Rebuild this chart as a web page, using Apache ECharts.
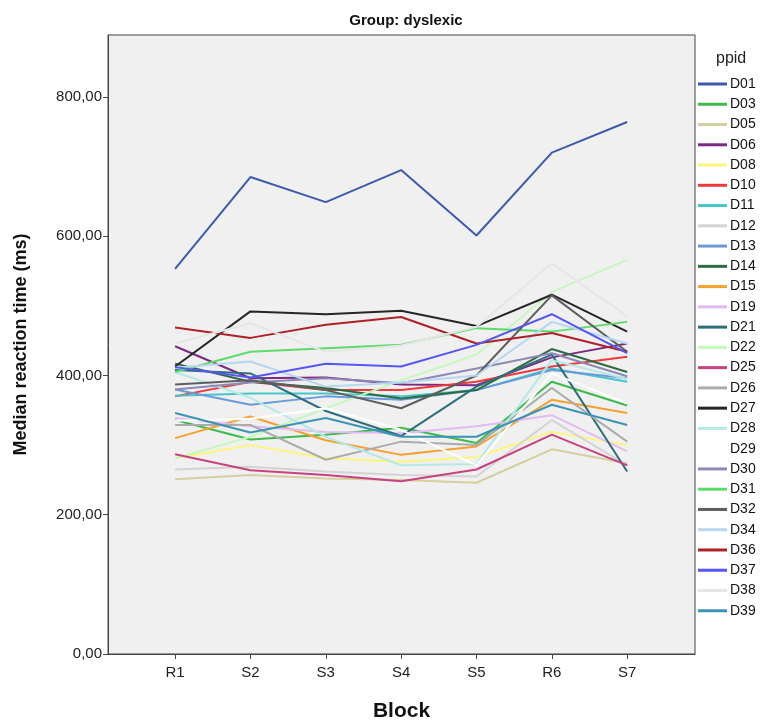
<!DOCTYPE html>
<html>
<head>
<meta charset="utf-8">
<script src="https://cdn.jsdelivr.net/npm/echarts@6/dist/echarts.min.js"></script>
<style>
html, body { margin: 0; padding: 0; background: #fff; }
#chart { width: 762px; height: 725px; }
</style>
</head>
<body>
<div id="chart"></div>
<script>
var blocks = ['R1', 'S2', 'S3', 'S4', 'S5', 'R6', 'S7'];
var yTicks = [0, 200, 400, 600, 800];

// median RT per block, one array per participant
var d01 = [553, 685, 649, 695, 601, 720, 764];
var d03 = [336, 308, 315, 325, 303, 391, 357];
var d05 = [251, 257, 252, 250, 246, 294, 274];
var d06 = [442, 396, 397, 387, 386, 426, 446];
var d08 = [281, 300, 281, 276, 283, 319, 300];
var d10 = [370, 391, 379, 379, 391, 413, 427];
var d11 = [371, 374, 374, 370, 379, 410, 391];
var d12 = [265, 269, 262, 257, 255, 336, 271];
var d13 = [380, 358, 370, 365, 379, 408, 396];
var d14 = [417, 391, 382, 367, 379, 438, 405];
var d15 = [310, 341, 307, 286, 298, 365, 346];
var d19 = [339, 327, 319, 317, 327, 343, 291];
var d21 = [408, 403, 349, 313, 384, 430, 262];
var d22 = [281, 312, 353, 393, 430, 520, 566];
var d25 = [287, 264, 257, 248, 265, 315, 271];
var d26 = [329, 329, 279, 305, 300, 382, 305];
var d27 = [413, 492, 488, 493, 471, 516, 463];
var d28 = [405, 368, 312, 271, 273, 422, 395];
var d29 = [335, 338, 353, 322, 271, 403, 360];
var d30 = [380, 390, 396, 389, 410, 432, 399];
var d31 = [405, 434, 439, 444, 468, 463, 477];
var d32 = [387, 393, 379, 353, 400, 515, 434];
var d34 = [411, 420, 384, 390, 400, 477, 446];
var d36 = [469, 454, 473, 484, 446, 461, 434];
var d37 = [412, 397, 417, 413, 444, 488, 432];
var d38 = [446, 475, 434, 443, 470, 561, 485];
var d39 = [346, 318, 339, 312, 312, 358, 329];

var ppid = ['D01', 'D03', 'D05', 'D06', 'D08', 'D10', 'D11', 'D12', 'D13', 'D14', 'D15', 'D19', 'D21',
    'D22', 'D25', 'D26', 'D27', 'D28', 'D29', 'D30', 'D31', 'D32', 'D34', 'D36', 'D37', 'D38', 'D39'];
var values = [d01, d03, d05, d06, d08, d10, d11, d12, d13, d14, d15, d19, d21,
    d22, d25, d26, d27, d28, d29, d30, d31, d32, d34, d36, d37, d38, d39];
var colors = ['#3D5AAE', '#3CBB4B', '#D5CE9E', '#7B2A82', '#FBF67A', '#F0393C', '#45C6C8', '#D3D3D3', '#6A9ADB',
    '#2C6B44', '#F7A02E', '#E3BBF2', '#2C6E7D', '#C6F8BE', '#C8427F', '#ABABAB', '#262626', '#B4E9E8',
    '#FFFFFF', '#8D88B6', '#5DDB6A', '#5E5E5E', '#B6D6F2', '#AD2127', '#5656F6', '#E6E6E6', '#3B93B5'];

var dom = document.getElementById('chart');
var myChart = echarts.init(dom);

var series = [];
for (var i = 0; i < ppid.length; i++) {
    var pts = [];
    for (var j = 0; j < blocks.length; j++) {
        pts.push([j + 1, values[i][j]]);
    }
    series.push({
        name: ppid[i],
        type: 'line',
        data: pts,
        symbol: 'none',
        animation: false,
        lineStyle: { width: 2, color: colors[i] },
        itemStyle: { color: colors[i] }
    });
}

var font = 'Liberation Sans, Arial, sans-serif';

var option = {
    backgroundColor: '#fff',
    title: [
        {
            text: 'Group: dyslexic',
            left: 401, top: 8, textAlign: 'center',
            textStyle: { fontFamily: font, fontSize: 15, fontWeight: 'bold', color: '#111' }
        },
        {
            text: 'ppid',
            left: 711, top: 46,
            textStyle: { fontFamily: font, fontSize: 16, fontWeight: 'normal', color: '#222' }
        }
    ],
    legend: {
        orient: 'vertical',
        left: 698, top: 76,
        padding: 0,
        icon: 'rect',
        itemWidth: 29, itemHeight: 3,
        itemGap: 4.26,
        textStyle: { fontFamily: font, fontSize: 14, color: '#111', lineHeight: 16, padding: [0, 0, 0, -2] },
        data: ppid
    },
    grid: {
        left: 108, top: 35, width: 587, height: 619,
        outerBoundsMode: 'none',
        show: true, backgroundColor: '#F0F0F0', borderColor: '#444', borderWidth: 1
    },
    xAxis: {
        type: 'value',
        min: 0.11, max: 7.9,
        name: 'Block', nameLocation: 'middle', nameGap: 47,
        nameTextStyle: { fontFamily: font, fontSize: 21, fontWeight: 'bold', color: '#111' },
        axisLine: { show: true, lineStyle: { color: '#444' } },
        axisTick: { show: true, inside: false, length: 5, customValues: [1, 2, 3, 4, 5, 6, 7], lineStyle: { color: '#444' } },
        axisLabel: {
            customValues: [1, 2, 3, 4, 5, 6, 7],
            fontFamily: font, fontSize: 15, color: '#222', margin: 11,
            formatter: function (v) { return blocks[Math.round(v) - 1]; }
        },
        splitLine: { show: false }
    },
    yAxis: {
        type: 'value',
        min: 0, max: 889,
        name: 'Median reaction time (ms)', nameLocation: 'middle', nameGap: 78, nameRotate: 90,
        nameTextStyle: { fontFamily: font, fontSize: 18, fontWeight: 'bold', color: '#111' },
        axisLine: { show: true, lineStyle: { color: '#444' } },
        axisTick: { show: true, inside: false, length: 5, customValues: yTicks, lineStyle: { color: '#444' } },
        axisLabel: {
            customValues: yTicks,
            fontFamily: font, fontSize: 15, color: '#222', margin: 6,
            formatter: function (v) { return v.toFixed(2).replace('.', ','); }
        },
        splitLine: { show: false }
    },
    series: series
};

if (option && typeof option === 'object') {
    myChart.setOption(option, true);
}
</script>
</body>
</html>
